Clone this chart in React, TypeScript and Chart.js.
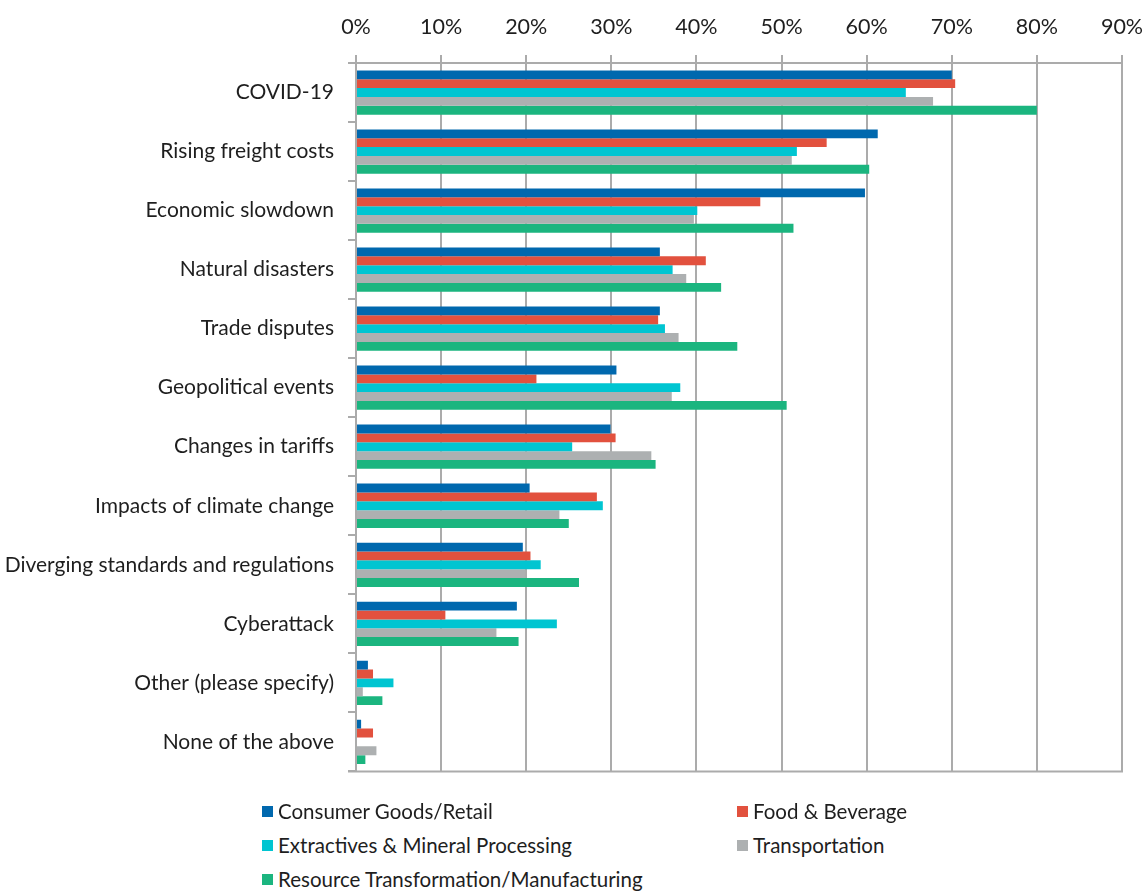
import React, { useEffect, useRef } from "react";
import { Chart, registerables } from "chart.js";

Chart.register(...registerables);

const categories = [
  "COVID-19",
  "Rising freight costs",
  "Economic slowdown",
  "Natural disasters",
  "Trade disputes",
  "Geopolitical events",
  "Changes in tariffs",
  "Impacts of climate change",
  "Diverging standards and regulations",
  "Cyberattack",
  "Other (please specify)",
  "None of the above",
];

const consumerGoods = [70.0, 61.3, 59.8, 35.7, 35.7, 30.6, 29.9, 20.4, 19.6, 18.9, 1.4, 0.6];
const foodBeverage = [70.4, 55.3, 47.5, 41.1, 35.5, 21.2, 30.5, 28.3, 20.5, 10.5, 2.0, 2.0];
const extractives = [64.6, 51.8, 40.1, 37.2, 36.3, 38.1, 25.4, 29.0, 21.7, 23.6, 4.4, 0];
const transportation = [67.8, 51.2, 39.7, 38.8, 37.9, 37.1, 34.7, 23.9, 19.9, 16.5, 0.8, 2.4];
const resourceTransformation = [80.0, 60.3, 51.4, 42.9, 44.8, 50.6, 35.2, 25.0, 26.2, 19.1, 3.1, 1.1];

const seriesNames = [
  "Consumer Goods/Retail",
  "Food & Beverage",
  "Extractives & Mineral Processing",
  "Transportation",
  "Resource Transformation/Manufacturing",
];
const seriesColors = ["#0068AE", "#E2513E", "#00C5D1", "#ADB0B1", "#1BB57F"];
const seriesData = [consumerGoods, foodBeverage, extractives, transportation, resourceTransformation];

const xMin = 0;
const xMax = 90;
const xStep = 10;

const FONT = "Lato, 'DejaVu Sans Condensed', sans-serif";
const TEXT = "#1e1e1e";
const GRID = "#ABABAB";

const bottomLinePlugin = {
  id: "bottomLine",
  afterDraw(chart: any) {
    const { ctx, chartArea } = chart;
    ctx.save();
    ctx.strokeStyle = GRID;
    ctx.lineWidth = 2;
    ctx.beginPath();
    ctx.moveTo(chartArea.left - 8, chartArea.bottom);
    ctx.lineTo(chartArea.right + 1, chartArea.bottom);
    ctx.stroke();
    ctx.restore();
  },
};

export default function App() {
  const ref = useRef<HTMLCanvasElement | null>(null);

  useEffect(() => {
    document.body.style.margin = "0";
    if (!ref.current) return;
    const chart = new Chart(ref.current, {
      type: "bar",
      data: {
        labels: categories,
        datasets: seriesNames.map((name, i) => ({
          label: name,
          data: seriesData[i],
          backgroundColor: seriesColors[i],
          borderWidth: 0,
          categoryPercentage: 0.75,
          barPercentage: 1.0,
        })),
      },
      options: {
        indexAxis: "y",
        animation: false,
        responsive: false,
        maintainAspectRatio: false,
        layout: { padding: { left: 0, right: 23, top: 0, bottom: 0 } },
        plugins: {
          legend: { display: false },
          tooltip: { enabled: false },
        },
        scales: {
          x: {
            position: "top",
            min: xMin,
            max: xMax,
            ticks: {
              stepSize: xStep,
              color: TEXT,
              font: { family: FONT, size: 21.5 },
              padding: 15,
              callback: (v: any) => v + "%",
            },
            grid: {
              color: GRID,
              lineWidth: 2,
              tickLength: 8,
              drawTicks: true,
            },
            border: { display: true, color: GRID, width: 2 },
            afterFit: (scale: any) => {
              scale.height = 63;
              scale.paddingLeft = 0;
              scale.paddingRight = 0;
            },
          },
          y: {
            ticks: {
              color: TEXT,
              font: { family: FONT, size: 21 },
              padding: 14,
              autoSkip: false,
            },
            grid: {
              drawOnChartArea: false,
              drawTicks: true,
              tickLength: 8,
              color: GRID,
              lineWidth: 2,
            },
            border: { display: true, color: GRID, width: 2 },
            afterFit: (scale: any) => {
              scale.width = 356;
            },
          },
        },
      },
      plugins: [bottomLinePlugin],
    });
    return () => chart.destroy();
  }, []);

  const legendItem = (i: number, left: number, top: number) => (
    <div
      key={i}
      style={{
        position: "absolute",
        left,
        top,
        display: "flex",
        alignItems: "center",
        fontFamily: FONT,
        fontSize: 20.5,
        color: TEXT,
        whiteSpace: "nowrap",
        lineHeight: "28px",
      }}
    >
      <span
        style={{
          display: "inline-block",
          width: 11,
          height: 11,
          background: seriesColors[i],
          marginRight: 5,
        }}
      />
      {seriesNames[i]}
    </div>
  );

  return (
    <div style={{ position: "relative", width: 1145, height: 893, background: "#fff" }}>
      <canvas ref={ref} width={1145} height={798} style={{ display: "block" }} />
      {legendItem(0, 262, 797)}
      {legendItem(1, 737, 797)}
      {legendItem(2, 262, 831)}
      {legendItem(3, 737, 831)}
      {legendItem(4, 262, 865)}
    </div>
  );
}
